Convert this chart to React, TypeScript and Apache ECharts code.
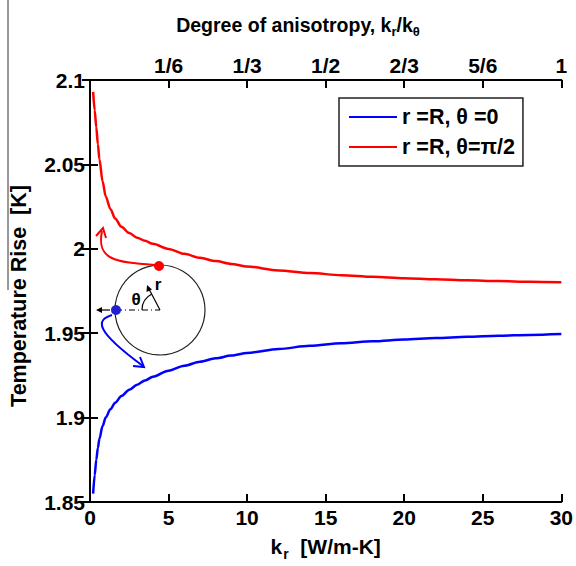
import React, { useEffect, useRef } from "react";
import * as echarts from "echarts";

const kR = [0.2, 0.3, 0.4, 0.5, 0.6, 0.8, 1.0, 1.3, 1.6, 2.0, 2.5, 3.0, 3.5, 4.0, 5.0, 6.0, 7.0, 8.0, 9.0, 10, 12, 14, 16, 18, 20, 22, 24, 26, 28, 30];
const redValues = [2.093, 2.082, 2.072, 2.062, 2.053, 2.040, 2.031, 2.0235, 2.018, 2.013, 2.0093, 2.0066, 2.0047, 2.003, 1.9999, 1.997, 1.9947, 1.9927, 1.991, 1.9895, 1.9872, 1.9856, 1.9844, 1.9834, 1.9826, 1.9819, 1.9813, 1.9809, 1.9805, 1.9802];
const blueValues = [1.855, 1.866, 1.875, 1.882, 1.8875, 1.895, 1.9, 1.905, 1.9088, 1.9128, 1.9165, 1.9195, 1.922, 1.9242, 1.9278, 1.9307, 1.9331, 1.9351, 1.9368, 1.9383, 1.9407, 1.9425, 1.944, 1.9452, 1.9462, 1.9471, 1.9479, 1.9485, 1.949, 1.9495];
const topTickLabels = ["", "1/6", "1/3", "1/2", "2/3", "5/6", "1"];
const seriesNames = ["r =R, \u03b8 =0", "r =R, \u03b8=\u03c0/2"];

const FONT = "Liberation Sans, Arial, sans-serif";

export default function App() {
  const ref = useRef<HTMLDivElement>(null);
  useEffect(() => {
    if (!ref.current) return;
    const chart = echarts.init(ref.current, undefined, { renderer: "svg" });
    const lbl = { fontFamily: FONT, fontWeight: "bold" as const, fontSize: 21, color: "#000" };
    const axisLine = { show: true, lineStyle: { color: "#000", width: 2 } };
    const sub = { fontFamily: FONT, fontWeight: "bold" as const, fontSize: 13, lineHeight: 13, color: "#000", padding: [10, 0, 0, 0], verticalAlign: "top" as const };
    const main = { fontFamily: FONT, fontWeight: "bold" as const, fontSize: 19.5, lineHeight: 20, color: "#000", verticalAlign: "top" as const };
    const blueData = kR.map((k, i) => [k, blueValues[i]]);
    const redData = kR.map((k, i) => [k, redValues[i]]);
    const tick = { inside: true, length: 8, lineStyle: { color: "#000", width: 2 } };
    chart.setOption({
      animation: false,
      backgroundColor: "#fff",
      grid: { left: 88, top: 80, width: 475, height: 425, containLabel: false },
      title: {
        text: "{m|Degree of anisotropy, k}{s|r}{m|/k}{s|\u03b8}",
        left: 293,
        top: 10,
        textAlign: "center",
        textStyle: { rich: { m: main, s: sub } },
      },
      legend: {
        left: 339,
        top: 98,
        orient: "vertical",
        data: seriesNames,
        icon: "rect",
        itemWidth: 48,
        itemHeight: 2,
        itemGap: 8,
        padding: [8, 8, 8, 10],
        borderColor: "#222",
        borderWidth: 1.5,
        backgroundColor: "#fff",
        textStyle: { ...lbl, fontSize: 21.5 },
      },
      xAxis: [
        {
          type: "value",
          position: "bottom",
          min: 0,
          max: 30,
          interval: 5,
          axisLine,
          axisTick: tick,
          axisLabel: { ...lbl, margin: 5 },
          splitLine: { show: false },
          name: "{m|k}{s|r}{m|  [W/m-K]}",
          nameLocation: "middle",
          nameGap: 34,
          nameTextStyle: { rich: { m: { ...main, fontSize: 21, lineHeight: 21 }, s: { ...sub, fontSize: 14, padding: [11, 0, 0, 1] } } },
        },
        {
          type: "value",
          position: "top",
          min: 0,
          max: 30,
          interval: 5,
          axisLine,
          axisTick: tick,
          axisLabel: {
            ...lbl,
            margin: 4,
            formatter: (v: number) => topTickLabels[Math.round(v / 5)] ?? "",
          },
          splitLine: { show: false },
        },
      ],
      yAxis: [
        {
          type: "value",
          position: "left",
          min: 1.85,
          max: 2.1,
          interval: 0.05,
          axisLine,
          axisTick: tick,
          axisLabel: { ...lbl, margin: 5, formatter: (v: number) => String(Number(v.toFixed(2))) },
          splitLine: { show: false },
          name: "Temperature Rise  [K]",
          nameLocation: "middle",
          nameGap: 60,
          nameTextStyle: { fontFamily: FONT, fontWeight: "bold", fontSize: 21.5, color: "#000", padding: [0, 10, 0, 0] },
        },
        {
          type: "value",
          position: "right",
          min: 1.85,
          max: 2.1,
          interval: 0.05,
          axisLine,
          axisTick: tick,
          axisLabel: { show: false },
          splitLine: { show: false },
        },
      ],
      series: [
        {
          name: seriesNames[0],
          type: "line",
          data: blueData,
          showSymbol: false,
          smooth: 0.3,
          smoothMonotone: "x",
          lineStyle: { color: "#0000ff", width: 2.5 },
          itemStyle: { color: "#0000ff" },
        },
        {
          name: seriesNames[1],
          type: "line",
          data: redData,
          showSymbol: false,
          smooth: 0.3,
          smoothMonotone: "x",
          lineStyle: { color: "#ff0000", width: 2.5 },
          itemStyle: { color: "#ff0000" },
        },
      ],
      graphic: [
        { type: "line", shape: { x1: 8, y1: 0, x2: 8, y2: 290 }, style: { stroke: "#333", lineWidth: 1 } },
        { type: "circle", shape: { cx: 160, cy: 310, r: 45 }, style: { fill: "none", stroke: "#222", lineWidth: 1.2 } },
        { type: "line", shape: { x1: 116, y1: 310, x2: 160, y2: 310 }, style: { stroke: "#000", lineWidth: 1.2, lineDash: [6, 3, 1, 3] } },
        { type: "line", shape: { x1: 110, y1: 310, x2: 100, y2: 310 }, style: { stroke: "#000", lineWidth: 1.2 } },
        { type: "polygon", shape: { points: [[96, 310], [102, 307], [102, 313]] }, style: { fill: "#000" } },
        { type: "line", shape: { x1: 160, y1: 310, x2: 149, y2: 289 }, style: { stroke: "#000", lineWidth: 1.2 } },
        { type: "polygon", shape: { points: [[147, 285], [146.5, 292], [152, 289.5]] }, style: { fill: "#000" } },
        { type: "arc", shape: { cx: 160, cy: 310, r: 18, startAngle: Math.PI, endAngle: Math.PI * 1.35, clockwise: true }, style: { stroke: "#000", fill: "none", lineWidth: 1.2 } },
        { type: "text", x: 136, y: 299, style: { text: "\u03b8", font: "bold 17px " + FONT, fill: "#000", align: "center", verticalAlign: "middle" } },
        { type: "text", x: 158, y: 284, style: { text: "r", font: "bold 17px " + FONT, fill: "#000", align: "center", verticalAlign: "middle" } },
        { type: "bezierCurve", shape: { x1: 155, y1: 265, cpx1: 115, cpy1: 262, cpx2: 96, cpy2: 260, x2: 102, y2: 231 }, style: { stroke: "#ff0000", lineWidth: 2, fill: "none" } },
        { type: "polyline", shape: { points: [[96, 236], [103, 228], [106, 238]] }, style: { stroke: "#ff0000", lineWidth: 2, fill: "none" } },
        { type: "bezierCurve", shape: { x1: 112, y1: 315, cpx1: 96, cpy1: 320, cpx2: 94, cpy2: 330, x2: 143, y2: 366 }, style: { stroke: "#0000ff", lineWidth: 2, fill: "none" } },
        { type: "polyline", shape: { points: [[133, 366], [144, 367], [140, 357]] }, style: { stroke: "#0000ff", lineWidth: 2, fill: "none" } },
        { type: "circle", shape: { cx: 159, cy: 266, r: 5 }, style: { fill: "#ff0000" } },
        { type: "circle", shape: { cx: 116, cy: 310, r: 5 }, style: { fill: "#2020d0" } },
      ],
    });
    return () => chart.dispose();
  }, []);
  return <div ref={ref} style={{ position: "fixed", left: 0, top: 0, width: 576, height: 566 }} />;
}
